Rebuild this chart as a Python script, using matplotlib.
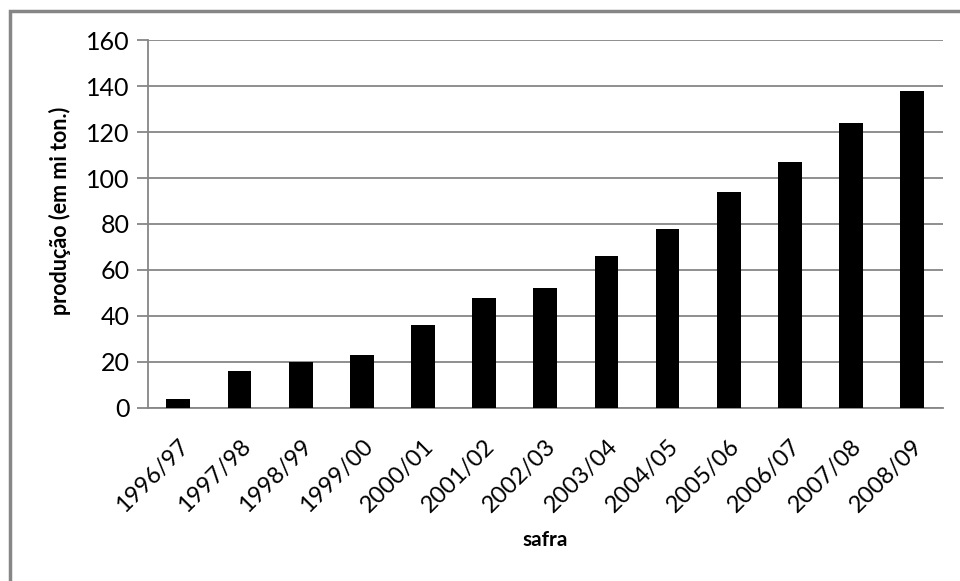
import matplotlib.pyplot as plt
from matplotlib.patches import Rectangle

# produção por safra (em milhões de toneladas)
safras = ['1996/97', '1997/98', '1998/99', '1999/00', '2000/01', '2001/02', '2002/03',
          '2003/04', '2004/05', '2005/06', '2006/07', '2007/08', '2008/09']
producao = [4, 16, 20, 23, 36, 48, 52, 66, 78, 94, 107, 124, 138]
yticks = [0, 20, 40, 60, 80, 100, 120, 140, 160]

plt.rcParams['font.family'] = ['Lato', 'DejaVu Sans']

fig = plt.figure(figsize=(9.6, 5.81), dpi=100)
ax = fig.add_axes([0.154, 0.298, 0.828, 0.633])

grid_color = '#868686'
x = range(len(safras))
ax.bar(x, producao, width=0.39, color='black', zorder=3)

ax.set_xlim(-0.5, len(safras) - 0.5)
ax.set_ylim(0, 160)
ax.set_yticks(yticks)
ax.yaxis.grid(True, color=grid_color, linewidth=1.3, zorder=0)

for side in ['top', 'right']:
    ax.spines[side].set_visible(False)
ax.spines['left'].set_color(grid_color)
ax.spines['bottom'].set_color(grid_color)
ax.spines['left'].set_linewidth(1.3)
ax.spines['bottom'].set_linewidth(1.3)

ax.tick_params(axis='y', length=8, width=1.3, color=grid_color, labelsize=18, pad=5)
ax.tick_params(axis='x', length=0, labelsize=17, pad=20)
ax.set_xticks(list(x))
ax.set_xticklabels(safras, rotation=45, ha='right', va='top', rotation_mode='anchor')

ax.set_ylabel('produção (em mi ton.)', fontsize=15.5, fontweight='bold',
              ha='center', va='center', rotation_mode='default')
ax.yaxis.set_label_coords(-0.111, 0.535)
ax.set_xlabel('safra', fontsize=15, fontweight='bold', va='center')
ax.xaxis.set_label_coords(0.5, -0.359)

# moldura do gráfico
fig.patches.append(Rectangle((9.5 / 960, -0.1), 1.2, 1 - 10.5 / 581 + 0.1,
                             transform=fig.transFigure, fill=False,
                             edgecolor=grid_color, linewidth=2.5))

fig.savefig('out.png', dpi=100)
